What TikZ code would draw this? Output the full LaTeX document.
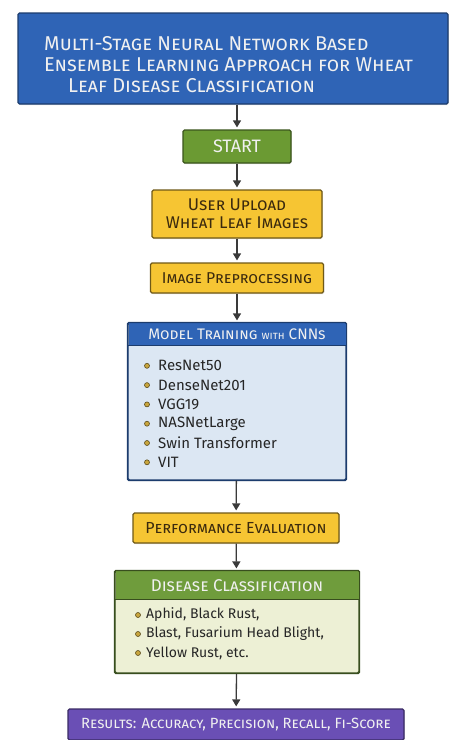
\documentclass[tikz,border=0pt]{standalone}
\usepackage{fontspec}
\setmainfont{Fira Sans}
\usetikzlibrary{arrows.meta, shadows}

\definecolor{titleblue}{HTML}{2F64B6}
\definecolor{startgreen}{HTML}{6B9A33}
\definecolor{stepyellow}{HTML}{F6C533}
\definecolor{stepbrown}{HTML}{3B2A0E}
\definecolor{paleblue}{HTML}{DCE7F3}
\definecolor{leafgreen}{HTML}{6F9C3C}
\definecolor{paleleaf}{HTML}{EDF0D5}
\definecolor{resultpurple}{HTML}{6A4FB5}
\definecolor{arrowgray}{HTML}{3A3A3A}
\definecolor{dotfill}{HTML}{C9A63E}

\tikzset{
    boxbase/.style={rounded corners=1.5pt, line width=1.2pt, align=center, inner sep=0pt,
        drop shadow={shadow xshift=0.8pt, shadow yshift=-1pt, opacity=0.25}},
    titlebox/.style={boxbase, fill=titleblue, draw=titleblue!60!black},
    startbox/.style={boxbase, fill=startgreen, draw=startgreen!55!black, text=white!94!black,
        font=\fontsize{18}{20}\selectfont},
    stepbox/.style={boxbase, fill=stepyellow, draw=stepyellow!45!black, text=stepbrown,
        font=\fontsize{17}{18}\selectfont\scshape},
    resultbox/.style={boxbase, fill=resultpurple, draw=resultpurple!55!black, text=white!94!black,
        font=\fontsize{14.8}{17}\selectfont\scshape},
    headbar/.style={fill=#1, inner sep=0pt, text=white!94!black},
    dot/.style={circle, fill=dotfill, draw=dotfill!45!black, line width=0.6pt, minimum size=5pt, inner sep=0pt},
    itemtext/.style={anchor=west, inner sep=0pt, text=black!85, font=\fontsize{14}{17}\selectfont},
    flow/.style={-{Triangle[width=8pt,length=7pt]}, line width=1.3pt, draw=arrowgray, shorten >=2pt}
}

\begin{document}
\begin{tikzpicture}[x=1pt, y=-1pt]
    \useasboundingbox (0,0) rectangle (449,740);

    % title
    \node[titlebox, minimum width=430, minimum height=91] (title) at (233,58.5) {};
    \node[anchor=west, align=left, inner sep=0pt, text=white!94!black, font=\fontsize{20}{21}\selectfont\scshape]
        (titletext) at (44,65)
        {Multi-Stage Neural Network Based\\ Ensemble Learning Approach for Wheat\\ \hspace*{24pt}Leaf Disease Classification};

    % upper steps
    \node[startbox, minimum width=108, minimum height=33] (start) at (237,146.5) {START};
    \node[stepbox, minimum width=170, minimum height=48] (upload) at (237,214) {User Upload\\ Wheat Leaf Images};
    \node[stepbox, minimum width=173, minimum height=30, font=\fontsize{15.7}{18}\selectfont\scshape] (prep) at (237,278)
        {Image Preprocessing};

    % model training
    \node[boxbase, fill=paleblue, draw=titleblue!60!black, minimum width=218, minimum height=157] (mbox) at (237,401.5) {};
    \node[headbar=titleblue, anchor=north, minimum width=217, minimum height=22,
        font=\fontsize{15.3}{17}\selectfont\scshape] (mhead) at ([yshift=-0.6pt]mbox.north)
        {Model Training {\fontsize{11}{13}\selectfont with} CNNs};
    \draw[titleblue!60!black, line width=1.2pt, rounded corners=1.5pt] (mbox.south west) rectangle (mbox.north east);
    \draw[titleblue!60!black, line width=1pt] (mhead.south west) -- (mhead.south east);
    \foreach \name [count=\i] in {ResNet50, DenseNet201, VGG19, NASNetLarge, Swin Transformer, VIT} {
        \node[dot] (mdot\i) at (147,346.5+19.3*\i) {};
        \node[itemtext, font=\fontsize{15}{17}\selectfont] (mitem\i) at (158,346.5+19.3*\i) {\name};
    }

    \node[stepbox, minimum width=206, minimum height=30, font=\fontsize{16}{18}\selectfont\scshape] (perf) at (236,528)
        {Performance Evaluation};

    % disease classification
    \node[boxbase, fill=paleleaf, draw=leafgreen!50!black, minimum width=244, minimum height=102] (dbox) at (237,622) {};
    \node[headbar=leafgreen, anchor=north, minimum width=243, minimum height=28,
        font=\fontsize{17}{19}\selectfont\scshape] (dhead) at ([yshift=-0.6pt]dbox.north)
        {Disease Classification};
    \draw[leafgreen!50!black, line width=1.2pt, rounded corners=1.5pt] (dbox.south west) rectangle (dbox.north east);
    \draw[leafgreen!50!black, line width=1pt] (dhead.south west) -- (dhead.south east);
    \foreach \name [count=\i] in {{Aphid, Black Rust,}, {Blast, Fusarium Head Blight,}, {Yellow Rust, etc.}} {
        \node[dot] (ddot\i) at (138,596+19*\i) {};
        \node[itemtext] (ditem\i) at (146,596+19*\i) {\name};
    }

    \node[resultbox, minimum width=336, minimum height=31] (results) at (236,724.5)
        {Results: Accuracy, Precision, Recall, Fi-Score};

    % arrows
    \draw[flow] (title.south -| start.north) -- (start.north);
    \draw[flow] (start) -- (upload);
    \draw[flow] (upload) -- (prep);
    \draw[flow] (prep) -- (mbox);
    \draw[flow] (mbox) -- (perf);
    \draw[flow] (perf) -- (dbox);
    \draw[flow] (dbox) -- (results);
\end{tikzpicture}
\end{document}
